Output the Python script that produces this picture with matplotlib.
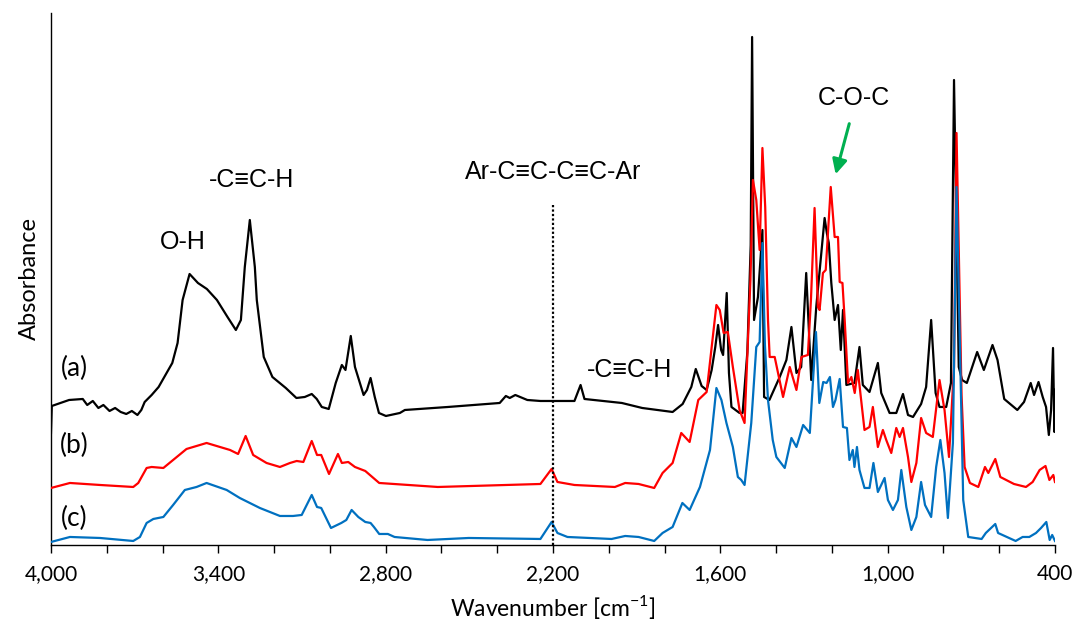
import matplotlib
matplotlib.use('Agg')
import matplotlib.pyplot as plt

# FT-IR spectra (offset, arbitrary absorbance units)
wn_a = [4000, 3997, 3935, 3886, 3870, 3850, 3830, 3812, 3790, 3770, 3750, 3730, 3710, 3690,
        3676, 3664, 3639, 3614, 3565, 3546, 3528,
        3503, 3473, 3441, 3405, 3367, 3337, 3319, 3305, 3287, 3269, 3262, 3237, 3206, 3158,
        3120, 3090, 3065, 3047, 3029, 3004, 2979, 2957, 2944, 2925, 2910, 2879, 2867, 2854,
        2839, 2824, 2799, 2749, 2731, 2577, 2391, 2369, 2355, 2335, 2292, 2245, 2123, 2101,
        2087, 1953, 1880, 1771, 1735, 1704, 1688, 1667, 1649, 1631, 1618, 1608, 1597, 1590,
        1577, 1569, 1560, 1531, 1520, 1503, 1491, 1486, 1479, 1465, 1449, 1443, 1424, 1387,
        1363, 1345, 1327, 1310, 1292, 1274, 1256, 1226, 1218, 1211, 1202, 1190, 1178, 1168,
        1160, 1148, 1119, 1101, 1089, 1065, 1035, 1023, 993, 969, 945, 927, 909, 880, 862,
        844, 828, 814, 790, 773, 762, 745, 733, 716, 679, 655, 624, 606, 582, 535, 511, 487,
        475, 459, 444, 432, 422, 414, 407, 402, 400]
abs_a = [112, 139, 145, 146, 140, 144, 137, 140, 134, 137, 133, 131, 134, 130,
         135, 143, 150, 158, 182, 202, 245,
         271, 262, 256, 245, 228, 215, 225, 278, 325, 278, 245, 188, 168, 157,
         147, 148, 151, 146, 138, 136, 162, 180, 175, 209, 178, 150, 155, 167,
         148, 132, 129, 132, 135, 138, 142, 149, 147, 150, 145, 144, 144, 160,
         146, 142, 137, 133, 141, 158, 176, 159, 155, 175, 198, 220, 195, 190,
         252, 172, 138, 132, 132, 193, 300, 508, 225, 248, 315, 148, 145, 168,
         185, 218, 172, 178, 272, 165, 238, 327, 312, 302, 262, 225, 240, 195,
         235, 160, 162, 198, 160, 153, 182, 152, 132, 132, 151, 130, 128, 141, 158,
         225, 152, 138, 138, 162, 465, 178, 165, 162, 193, 175, 200, 185, 146, 135, 143, 162,
         150, 163, 148, 138, 110, 135, 197, 113, 155]

wn_b = [4000, 3932, 3824, 3705, 3687, 3657, 3639, 3597, 3562, 3514, 3442, 3358, 3329, 3302,
        3275, 3227, 3179, 3143, 3119, 3095, 3065, 3046, 3031, 3003, 2971, 2957, 2934, 2910,
        2873, 2823, 2613, 2245, 2205, 2184, 2123, 1978, 1941, 1893, 1837, 1807, 1771, 1740,
        1710, 1679, 1649, 1614, 1602, 1588, 1573, 1555, 1531, 1513, 1492, 1483, 1471, 1459,
        1449, 1439, 1429, 1423, 1405, 1375, 1351, 1327, 1309, 1286, 1275, 1262, 1250, 1244,
        1232, 1222, 1204, 1190, 1178, 1172, 1162, 1154, 1142, 1130, 1118, 1107, 1083, 1065,
        1053, 1035, 1017, 1005, 987, 969, 957, 945, 927, 915, 897, 880, 862, 838, 814, 796,
        780, 762, 753, 735, 724, 705, 675, 651, 639, 614, 596, 547, 504, 480, 455, 434, 420,
        406, 400]
abs_b = [57, 62, 60, 58, 62, 77, 78, 77, 85, 96, 102, 95, 91, 109,
         90, 82, 78, 82, 84, 83, 104, 90, 90, 71, 91, 82, 83, 78,
         74, 62, 58, 61, 76, 63, 60, 58, 62, 61, 57, 72, 82, 112,
         103, 145, 153, 240, 235, 212, 213, 178, 135, 122, 265, 365, 345, 295,
         397, 338, 225, 188, 188, 148, 178, 155, 188, 190, 245, 337, 238, 235,
         272, 275, 358, 308, 308, 263, 262, 225, 162, 168, 152, 175, 115, 118,
         138, 98, 115, 105, 92, 117, 108, 117, 88, 63, 82, 127, 112, 108, 165, 135,
         88, 178, 412, 150, 78, 62, 58, 78, 72, 86, 68, 61, 58, 63, 75, 79, 65,
         70, 63]

wn_c = [4000, 3932, 3824, 3705, 3681, 3657, 3633, 3597, 3562, 3520, 3478, 3442, 3370, 3323,
        3251, 3179, 3132, 3101, 3065, 3046, 3031, 2996, 2959, 2941, 2922, 2898, 2873, 2854,
        2842, 2823, 2792, 2768, 2650, 2502, 2245, 2205, 2184, 2148, 1990, 1941, 1893, 1837,
        1807, 1771, 1736, 1710, 1673, 1637, 1614, 1596, 1578, 1555, 1537, 1525, 1513, 1489,
        1471, 1459, 1449, 1440, 1429, 1412, 1399, 1369, 1345, 1327, 1303, 1279, 1257, 1245,
        1231, 1219, 1207, 1196, 1187, 1172, 1160, 1146, 1137, 1125, 1119, 1110, 1101, 1083,
        1065, 1051, 1035, 1011, 999, 981, 963, 951, 933, 915, 897, 880, 866, 844, 826, 811,
        796, 784, 766, 753, 729, 711, 663, 648, 614, 604, 541, 516, 492, 468, 450, 431, 419,
        410, 400]
abs_c = [3, 8, 7, 4, 8, 22, 26, 28, 40, 55, 58, 62, 55, 47,
         37, 29, 29, 30, 50, 38, 37, 17, 22, 25, 35, 28, 23, 22,
         18, 11, 11, 8, 5, 7, 6, 23, 12, 8, 6, 9, 8, 4,
         12, 18, 42, 35, 58, 95, 157, 145, 122, 98, 68, 65, 60, 122,
         198, 203, 302, 200, 145, 105, 88, 77, 107, 98, 120, 112, 213, 142,
         163, 162, 168, 138, 145, 166, 118, 117, 85, 95, 78, 98, 75, 57,
         57, 82, 53, 67, 45, 35, 45, 75, 38, 15, 28, 63, 40, 28, 78, 105,
         72, 27, 102, 358, 45, 8, 6, 12, 21, 12, 4, 8, 8, 12, 17, 23, 5,
         10, 4]

tick_pos = list(range(4000, 399, -200))
tick_labels = ['4,000', '', '', '3,400', '', '', '2,800', '', '', '2,200', '', '',
               '1,600', '', '', '1,000', '', '', '400']

calibri = ['Lato', 'DejaVu Sans']
arial = ['Liberation Sans', 'DejaVu Sans']

fig = plt.figure(figsize=(10.73, 6.28), dpi=100)
ax = fig.add_axes([0.0475, 0.1322, 0.9357, 0.8471])

ax.plot(wn_a, abs_a, color='#000000', lw=1.6, zorder=2)
ax.plot(wn_b, abs_b, color='#FF0000', lw=1.6, zorder=3)
ax.plot(wn_c, abs_c, color='#0070C0', lw=1.6, zorder=4)

# Ar-C≡C-C≡C-Ar marker line
ax.plot([2200, 2200], [0, 342], color='black', lw=1.6, ls=(0, (1, 1)), zorder=5)

ax.set_xlim(4000, 400)
ax.set_ylim(0, 532)

ax.set_xticks(tick_pos)
ax.set_xticklabels(tick_labels, family=calibri, fontsize=15)
ax.set_yticks([])
ax.tick_params(axis='x', direction='out', length=6, width=1, pad=8)
ax.spines['top'].set_visible(False)
ax.spines['right'].set_visible(False)
ax.spines['left'].set_linewidth(1)
ax.spines['bottom'].set_linewidth(1)

ax.set_xlabel('Wavenumber [cm$^{\\mathregular{-1}}$]', family=calibri, fontsize=16.5, labelpad=6)
ax.set_ylabel('Absorbance', family=calibri, fontsize=17, labelpad=8)

# sample labels
ax.text(3915, 177, '(a)', family=calibri, fontsize=19, ha='center', va='center')
ax.text(3917, 100, '(b)', family=calibri, fontsize=19, ha='center', va='center')
ax.text(3915, 27, '(c)', family=calibri, fontsize=19, ha='center', va='center')

# band assignments
ax.text(3527, 303, 'O-H', family=arial, fontsize=18, ha='center', va='center')
ax.text(3280, 365, '-C≡C-H', family=arial, fontsize=18, ha='center', va='center')
ax.text(2200, 373, 'Ar-C≡C-C≡C-Ar', family=arial, fontsize=18, ha='center', va='center')
ax.text(1926, 175, '-C≡C-H', family=arial, fontsize=18, ha='center', va='center')
ax.text(1120, 447, 'C-O-C', family=arial, fontsize=18, ha='center', va='center')
ax.annotate('', xy=(1189, 368), xytext=(1135, 424),
            arrowprops=dict(arrowstyle='-|>', color='#00B050', lw=2.2, mutation_scale=22))

fig.savefig('out.png', dpi=100)
